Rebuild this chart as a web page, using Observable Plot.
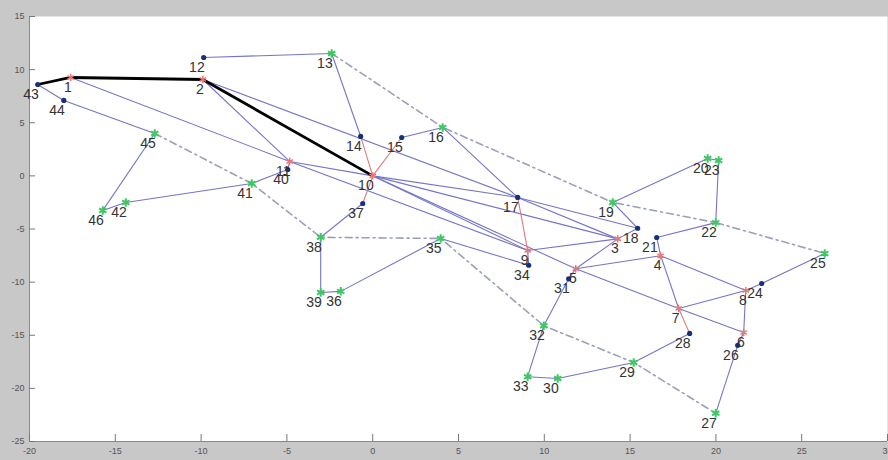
<!DOCTYPE html>
<html>
<head>
<meta charset="utf-8">
<script src="https://cdn.jsdelivr.net/npm/d3@7"></script>
<script src="https://cdn.jsdelivr.net/npm/@observablehq/plot@0.6"></script>
<style>
  html, body { margin: 0; padding: 0; background: #c8c8c8; }
  #chart svg { display: block; }
</style>
</head>
<body>
<div id="chart"></div>
<script>
// Node ids, coordinates and group (r = red, b = blue, g = green)
const nodeIds = [1,2,3,4,5,6,7,8,9,10,11,12,13,14,15,16,17,18,19,20,21,22,23,24,25,26,27,28,29,30,31,32,33,34,35,36,37,38,39,40,41,42,43,44,45,46];
const nodeX = [-17.6,-9.9,14.28,16.78,11.83,21.62,17.83,21.74,9.03,0,-4.84,-9.85,-2.39,-0.7,1.69,4.08,8.45,15.44,13.99,19.52,16.55,19.99,20.16,22.67,26.34,21.27,19.99,18.47,15.21,10.78,11.42,9.97,9.03,9.09,3.96,-1.86,-0.58,-3.03,-3.03,-4.95,-7.05,-14.39,-19.52,-18.0,-12.7,-15.73];
const nodeY = [9.26,9.07,-5.93,-7.51,-8.74,-14.74,-12.48,-10.79,-7.02,0,1.36,11.14,11.52,3.71,3.61,4.56,-2.03,-4.93,-2.5,1.64,-5.8,-4.4,1.45,-10.13,-7.3,-15.95,-22.35,-14.83,-17.56,-19.07,-9.69,-14.1,-18.9,-8.41,-5.89,-10.87,-2.6,-5.78,-10.97,0.6,-0.72,-2.5,8.6,7.1,3.99,-3.25];
const nodeGroup = ["r","r","r","r","r","r","r","r","r","r","r","b","g","b","b","g","b","b","g","g","b","g","g","b","g","b","g","b","g","g","b","g","g","b","g","g","b","g","g","b","g","g","b","b","g","g"];

// Edges
const blueEdges = [[43,44],[44,45],[45,46],[46,42],[42,41],[41,40],[40,11],[1,11],[2,11],[11,10],[10,17],[2,17],[11,9],
  [12,13],[13,14],[15,16],[16,17],[17,3],[17,18],[10,3],[10,9],[10,5],[9,3],[9,34],[3,18],[18,19],[19,20],[20,23],[23,22],
  [21,22],[4,21],[3,5],[5,4],[5,31],[31,32],[32,33],[33,30],[30,29],[29,28],[4,7],[4,8],[7,8],[5,7],[7,6],[8,6],[8,24],
  [24,25],[6,26],[26,27],[35,34],[35,36],[36,39],[39,38],[38,37]];
const redEdges = [[14,10],[15,10],[17,9],[37,10],[7,28]];
const blackPath = [43,1,2,10];
const dashPaths = [[13,16,19,22,25],[45,41,38,35,32,29,27]];

const xTicks = [-20,-15,-10,-5,0,5,10,15,20,25,30];
const yTicks = [15,10,5,0,-5,-10,-15,-20,-25];

const nodes = nodeIds.map((id,i)=>({id, x:nodeX[i], y:nodeY[i], g:nodeGroup[i]}));
const byId = new Map(nodes.map(n=>[n.id,n]));
const toSeg = e => ({x1:byId.get(e[0]).x, y1:byId.get(e[0]).y, x2:byId.get(e[1]).x, y2:byId.get(e[1]).y});
const blueSegs = blueEdges.map(toSeg);
const redSegs = redEdges.map(toSeg);
const blackPts = blackPath.map(id=>byId.get(id));
const dashPts = dashPaths.flatMap((p,k)=>p.map(id=>({...byId.get(id), k})));

const W = 888, H = 460, mL = 29, mR = 1, mT = 16, mB = 19;
const innerW = W - mL - mR, innerH = H - mT - mB;

const chart = Plot.plot({
  width: W, height: H,
  marginLeft: mL, marginRight: mR, marginTop: mT, marginBottom: mB,
  style: {background: "#c8c8c8", color: "#444", fontFamily: "Liberation Sans, Arial, sans-serif"},
  x: {domain: [-20, 30]},
  y: {domain: [-25, 15]},
  marks: [
    Plot.frame({fill: "white", stroke: "none"}),
    Plot.ruleX([-20], {stroke: "#888", strokeWidth: 1}),
    Plot.ruleY([-25], {stroke: "#888", strokeWidth: 1}),
    Plot.tickX(xTicks, {x: d=>d, stroke: "#777", insetTop: innerH - 7}),
    Plot.tickY(yTicks, {y: d=>d, stroke: "#777", insetRight: innerW - 6}),
    Plot.axisX({ticks: xTicks, tickSize: 0, tickPadding: 6, fontSize: 9, tickFormat: d=>String(d), fill: "#555"}),
    Plot.axisY({ticks: yTicks, tickSize: 0, tickPadding: 5, fontSize: 9, tickFormat: d=>String(d), fill: "#555"}),
    Plot.line(dashPts, {x:"x", y:"y", z:"k", stroke: "#9aa0b8", strokeWidth: 1.6, strokeDasharray: "7,4,2,4"}),
    Plot.link(blueSegs, {x1:"x1", y1:"y1", x2:"x2", y2:"y2", stroke: "#7474c8", strokeWidth: 1.1}),
    Plot.link(redSegs, {x1:"x1", y1:"y1", x2:"x2", y2:"y2", stroke: "#e07b7b", strokeWidth: 1.1}),
    Plot.line(blackPts, {x:"x", y:"y", stroke: "black", strokeWidth: 2.8}),
    Plot.dot(nodes.filter(n=>n.g==="g"), {x:"x", y:"y", symbol: "asterisk", r: 4, stroke: "#3cc862", strokeWidth: 2}),
    Plot.dot(nodes.filter(n=>n.g==="r"), {x:"x", y:"y", symbol: "asterisk", r: 3.5, stroke: "#e87878", strokeWidth: 1.5}),
    Plot.dot(nodes.filter(n=>n.g==="b"), {x:"x", y:"y", r: 2.6, fill: "#16307a", stroke: "none"}),
    Plot.text(nodes, {x:"x", y:"y", text: d=>String(d.id), textAnchor: "end", dy: 10, dx: 1, fontSize: 14, fill: "#333"})
  ]
});
document.getElementById("chart").appendChild(chart);
</script>
</body>
</html>
